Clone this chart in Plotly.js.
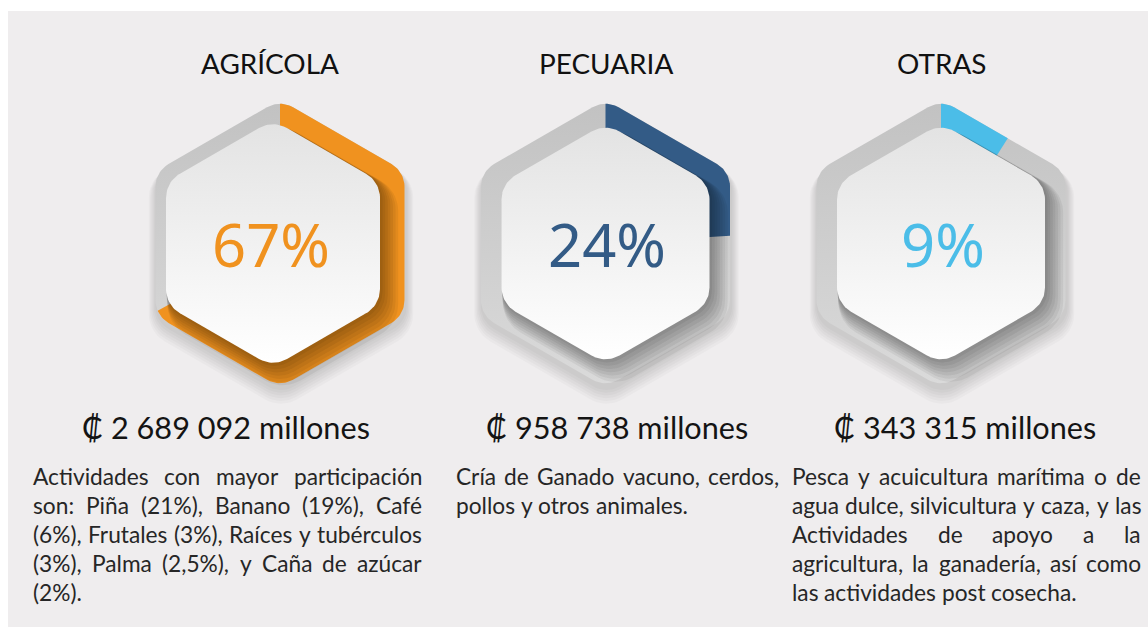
<!DOCTYPE html>
<html><head><meta charset="utf-8">
<script src="https://cdn.plot.ly/plotly-3.0.1.min.js"></script>
<style>html,body{margin:0;padding:0;background:#fff;overflow:hidden}#chart{width:1148px;height:627px}</style>
</head><body><div id="chart"></div>
<script>
// ---------- data ----------
const categories = ['AGRÍCOLA', 'PECUARIA', 'OTRAS'];
const shares = [67, 24, 9];
const amounts = ['₡ 2 689 092 millones', '₡ 958 738 millones', '₡ 343 315 millones'];
const colors = ['#F0921F', '#335B86', '#4BBDE8'];
const descriptions = [
  ['Actividades con mayor participación', 'son: Piña (21%), Banano (19%), Café', '(6%), Frutales (3%), Raíces y tubérculos', '(3%), Palma (2,5%), y Caña de azúcar', '(2%).'],
  ['Cría de Ganado vacuno, cerdos,', 'pollos y otros animales.'],
  ['Pesca y acuicultura marítima o de', 'agua dulce, silvicultura y caza, y las', 'Actividades de apoyo a la', 'agricultura, la ganadería, así como', 'las actividades post cosecha.']
];

// ---------- layout constants ----------
const W = 1148, H = 627;
const hexCx = [280, 605.5, 941], hexCy = 243.5;
const outerAp = 124.5, outerRc = 26;
const innerAp = [107, 104, 104], innerDx = [-7, 0, 0], innerRc = 28;
const titleX = [270, 606, 942], titleY = 62.5;
const pctX = [271, 607, 943], pctY = 244;
const amtX = [226, 617, 965], amtY = 427.5;
const colX = [[32, 421], [455, 778], [791, 1140]];
const lineY0 = 476, lineStep = 29.2;
const FONT = 'Lato, "Open Sans", sans-serif';
const PCTFONT = '"Noto Sans", "Open Sans", sans-serif';

const ctx = document.createElement('canvas').getContext('2d');
function measure(t, s, f) { ctx.font = s + 'px ' + (f || FONT); return ctx.measureText(t).width; }
const titleSize = 27 * 138 / measure('AGRÍCOLA', 27);
const pctSize = 64 * 118 / measure('67%', 64, PCTFONT);
const amtSize = 28 * 288 / measure(amounts[0], 28);
const bodySize = 20 * 386 / measure('(6%), Frutales (3%), Raíces y tubérculos', 20);

function roundedHex(cx, cy, ap, rc, n) {
  const R = ap / Math.cos(Math.PI / 6);
  const d = R - rc / Math.cos(Math.PI / 6);
  const xs = [], ys = [];
  for (let k = 0; k < 6; k++) {
    const a = (-90 + 60 * k) * Math.PI / 180;
    const ox = cx + d * Math.cos(a), oy = cy + d * Math.sin(a);
    for (let j = 0; j <= n; j++) {
      const phi = a + (-30 + 60 * j / n) * Math.PI / 180;
      xs.push(ox + rc * Math.cos(phi)); ys.push(oy + rc * Math.sin(phi));
    }
  }
  xs.push(xs[0]); ys.push(ys[0]);
  return { xs, ys };
}

function wedge(cx, cy, hex, frac) {
  const TWO = 2 * Math.PI;
  const pts = [];
  for (let i = 0; i < hex.xs.length - 1; i++) {
    let a = Math.atan2(hex.xs[i] - cx, -(hex.ys[i] - cy));
    if (a < 0) a += TWO;
    if (a > TWO - 1e-9) a = 0;
    pts.push({ x: hex.xs[i], y: hex.ys[i], a });
  }
  pts.sort((p, q) => p.a - q.a);
  function hit(alpha) {
    const ux = Math.sin(alpha), uy = -Math.cos(alpha);
    const n = pts.length;
    for (let i = 0; i < n; i++) {
      const p1 = pts[i], p2 = pts[(i + 1) % n];
      const a1 = p1.a, a2 = (i + 1 === n) ? p2.a + TWO : p2.a;
      if (alpha >= a1 && alpha <= a2) {
        const ex = p2.x - p1.x, ey = p2.y - p1.y;
        const den = ux * ey - uy * ex;
        const t = ((p1.x - cx) * ey - (p1.y - cy) * ex) / den;
        return { x: cx + t * ux, y: cy + t * uy };
      }
    }
    return { x: pts[0].x, y: pts[0].y };
  }
  const th = TWO * frac;
  const xs = [cx], ys = [cy];
  const h0 = hit(0); xs.push(h0.x); ys.push(h0.y);
  pts.forEach(p => { if (p.a > 1e-9 && p.a < th) { xs.push(p.x); ys.push(p.y); } });
  const h1 = hit(th); xs.push(h1.x); ys.push(h1.y);
  xs.push(cx); ys.push(cy);
  return { xs, ys };
}

function poly(p, extra) {
  return Object.assign({
    type: 'scatter', mode: 'lines', x: p.xs, y: p.ys, fill: 'toself',
    line: { width: 0, color: 'rgba(0,0,0,0)' }, hoverinfo: 'skip', showlegend: false
  }, extra);
}

const traces = [];
const annotations = [];
categories.forEach((cat, i) => {
  const cx = hexCx[i], cy = hexCy;
  // soft drop shadow of whole badge
  for (let k = 1; k <= 6; k++) {
    traces.push(poly(roundedHex(cx + 1, cy + 4 + k * 1.4, outerAp + k * 1.3, outerRc + k, 10), { fillcolor: 'rgba(0,0,0,0.022)' }));
  }
  const outer = roundedHex(cx, cy, outerAp, outerRc, 16);
  traces.push(poly(outer, { fillgradient: { type: 'vertical', colorscale: [[0, '#dadada'], [1, '#c2c2c2']] } }));
  traces.push(poly(wedge(cx, cy, outer, shares[i] / 100), { fillcolor: colors[i] }));
  // shadow of inner hexagon
  const icx = cx + innerDx[i];
  for (let k = 1; k <= 7; k++) {
    traces.push(poly(roundedHex(icx + k * 1.4, cy + k * 2.0, innerAp[i] + k * 1.2, innerRc + k, 10), { fillcolor: 'rgba(0,0,0,0.055)' }));
  }
  traces.push(poly(roundedHex(icx, cy, innerAp[i], innerRc, 16), { fillgradient: { type: 'vertical', colorscale: [[0, '#ffffff'], [1, '#e3e3e3']] } }));

  annotations.push({ x: titleX[i], y: titleY, text: cat, showarrow: false, xanchor: 'center', yanchor: 'middle', font: { family: FONT, size: titleSize, color: '#111111' } });
  annotations.push({ x: pctX[i], y: pctY, text: shares[i] + '%', showarrow: false, xanchor: 'center', yanchor: 'middle', font: { family: PCTFONT, size: pctSize, color: colors[i] } });
  annotations.push({ x: amtX[i], y: amtY, text: amounts[i], showarrow: false, xanchor: 'center', yanchor: 'middle', font: { family: FONT, size: amtSize, color: '#141414' } });

  const [x0, x1] = colX[i];
  const lines = descriptions[i];
  lines.forEach((ln, j) => {
    const y = lineY0 + j * lineStep;
    const words = ln.split(' ');
    const ws = words.map(w => measure(w, bodySize));
    const sum = ws.reduce((a, b) => a + b, 0);
    const justify = j < lines.length - 1 && words.length > 1;
    const gap = justify ? (x1 - x0 - sum) / (words.length - 1) : measure(' ', bodySize);
    let x = x0;
    words.forEach((w, k) => {
      annotations.push({ x: x, y: y, text: w, showarrow: false, xanchor: 'left', yanchor: 'middle', borderpad: 0, font: { family: FONT, size: bodySize, color: '#262626' } });
      x += ws[k] + gap;
    });
  });
});

const layout = {
  width: W, height: H, margin: { l: 0, r: 0, t: 0, b: 0 },
  paper_bgcolor: '#ffffff', plot_bgcolor: 'rgba(0,0,0,0)',
  xaxis: { range: [0, W], visible: false, fixedrange: true },
  yaxis: { range: [H, 0], visible: false, fixedrange: true },
  showlegend: false,
  shapes: [{ type: 'rect', xref: 'x', yref: 'y', x0: 8, x1: W, y0: 11, y1: H, fillcolor: '#EFEDEE', line: { width: 0 }, layer: 'below' }],
  annotations: annotations
};
Plotly.newPlot('chart', traces, layout, { displayModeBar: false, staticPlot: true });
</script></body></html>
